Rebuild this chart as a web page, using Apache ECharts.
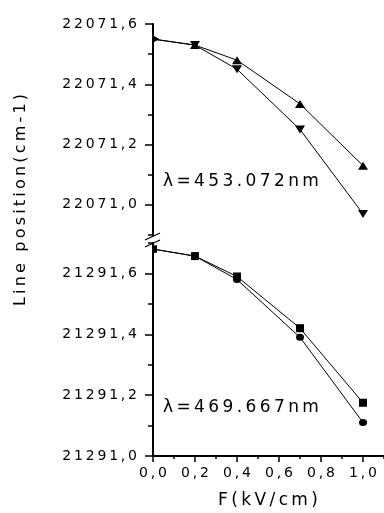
<!DOCTYPE html>
<html><head><meta charset="utf-8">
<script src="https://cdn.jsdelivr.net/npm/echarts@6/dist/echarts.min.js"></script>
<style>html,body{margin:0;padding:0;background:#fff}#c{width:384px;height:513px}</style>
</head><body><div id="c"></div>
<script>
// ---- data ----
const fieldValues = [0.0, 0.2, 0.4, 0.7, 1.0];
const upTri453   = [22071.55, 22071.53, 22071.48, 22071.335, 22071.13];
const downTri453 = [22071.55, 22071.53, 22071.45, 22071.25, 22070.97];
const square469  = [21291.68, 21291.657, 21291.59, 21291.42, 21291.175];
const circle469  = [21291.68, 21291.657, 21291.58, 21291.39, 21291.11];
const xTickValues = [0.0, 0.2, 0.4, 0.6, 0.8, 1.0];
const yTicksTop = [22071.0, 22071.2, 22071.4, 22071.6];
const yTicksBottom = [21291.0, 21291.2, 21291.4, 21291.6];
const labelTop = 'λ=453.072nm';
const labelBottom = 'λ=469.667nm';
const xTitle = 'F(kV/cm)';
const yTitle = 'Line position(cm-1)';

// ---- helpers ----
const FONT = '"DejaVu Sans", sans-serif';
const spaced = s => s.split('').join('\u2009');
const fmt = v => spaced(v.toFixed(1).replace('.', ','));
const zip = (xs, ys) => xs.map((x, i) => [x, ys[i]]);

const L = 153, W = 231;
const topMain = {top: 24, height: 211};
const botMain = {top: 243, height: 213};
const topExt = [yTicksTop[0] - 0.1, yTicksTop[yTicksTop.length - 1]];
const botExt = [yTicksBottom[0], yTicksBottom[yTicksBottom.length - 1] + 0.1];
const topOverlayH = topMain.height * (yTicksTop[3] - yTicksTop[0]) / (topExt[1] - topExt[0]);
const botOverlayH = botMain.height * (yTicksBottom[3] - yTicksBottom[0]) / (botExt[1] - botExt[0]);
const xMaxMain = 1.1;
const xOverlayW = W * xTickValues[xTickValues.length - 1] / xMaxMain;

const lineCol = '#000';
const mainY = (ext, gi) => ({
  type: 'value', gridIndex: gi, min: ext[0], max: ext[1], interval: 0.1,
  axisLine: {show: true, lineStyle: {color: lineCol, width: 2}},
  axisTick: {show: true, length: 5, lineStyle: {color: lineCol, width: 1.5}},
  axisLabel: {show: false}, splitLine: {show: false}
});
const overlayY = (ticks, gi) => ({
  type: 'value', gridIndex: gi, min: ticks[0], max: ticks[ticks.length - 1], interval: 0.2,
  axisLine: {show: false},
  axisTick: {show: true, length: 8, lineStyle: {color: lineCol, width: 1.5}},
  axisLabel: {show: true, margin: 16, formatter: fmt, color: '#000', fontSize: 14, fontFamily: FONT},
  splitLine: {show: false}
});
const hiddenX = (gi) => ({type: 'value', gridIndex: gi, min: 0, max: xMaxMain, show: false});

const firstPoint = (sym, size, offset, rot) => ({symbol: sym, symbolSize: size, symbolOffset: offset, symbolRotate: rot || 0});
const mkData = (xs, ys, first) => zip(xs, ys).map((p, i) => i === 0 ? Object.assign({value: p}, first) : {value: p});

const baseSeries = {
  type: 'line', lineStyle: {color: lineCol, width: 1}, itemStyle: {color: lineCol},
  showAllSymbol: true, animation: false, clip: false, z: 3
};

const option = {
  backgroundColor: '#fff',
  animation: false,
  grid: [
    {left: L, top: topMain.top, width: W, height: topMain.height},
    {left: L, top: topMain.top, width: W, height: topOverlayH},
    {left: L, top: botMain.top, width: W, height: botMain.height},
    {left: L, top: botMain.top + botMain.height - botOverlayH, width: xOverlayW, height: botOverlayH}
  ],
  xAxis: [
    hiddenX(0),
    {type: 'value', gridIndex: 1, min: 0, max: 1, show: false},
    {type: 'value', gridIndex: 2, min: 0, max: xMaxMain, interval: 0.1,
     axisLine: {show: true, onZero: false, lineStyle: {color: lineCol, width: 2}},
     axisTick: {show: true, length: 3, lineStyle: {color: lineCol, width: 1.5}},
     axisLabel: {show: false}, splitLine: {show: false}},
    {type: 'value', gridIndex: 3, min: xTickValues[0], max: xTickValues[xTickValues.length - 1], interval: 0.2,
     axisLine: {show: false, onZero: false},
     axisTick: {show: true, length: 6, lineStyle: {color: lineCol, width: 1.5}},
     axisLabel: {show: true, margin: 10, formatter: fmt, color: '#000', fontSize: 14, fontFamily: FONT},
     splitLine: {show: false}}
  ],
  yAxis: [
    mainY(topExt, 0),
    overlayY(yTicksTop, 1),
    mainY(botExt, 2),
    overlayY(yTicksBottom, 3)
  ],
  series: [
    Object.assign({}, baseSeries, {name: '453 up', xAxisIndex: 0, yAxisIndex: 0,
      symbol: 'triangle', symbolSize: [10, 8],
      data: mkData(fieldValues, upTri453, firstPoint('triangle', [7, 6], [3, 0], -90))}),
    Object.assign({}, baseSeries, {name: '453 down', xAxisIndex: 0, yAxisIndex: 0,
      symbol: 'triangle', symbolSize: [10, 8], symbolRotate: 180,
      data: mkData(fieldValues, downTri453, firstPoint('triangle', [7, 6], [3, 0], -90))}),
    Object.assign({}, baseSeries, {name: '469 square', xAxisIndex: 2, yAxisIndex: 2,
      symbol: 'rect', symbolSize: [8, 8],
      data: mkData(fieldValues, square469, firstPoint('rect', [4, 7], [2, 0]))}),
    Object.assign({}, baseSeries, {name: '469 circle', xAxisIndex: 2, yAxisIndex: 2,
      symbol: 'circle', symbolSize: [8, 7],
      data: mkData(fieldValues, circle469, firstPoint('rect', [4, 7], [2, 0]))})
  ],
  graphic: [
    {type: 'text', x: 163, y: 182, style: {text: spaced(labelTop), font: '17px ' + FONT, fill: '#000',
      align: 'left', verticalAlign: 'middle', textAlign: 'left', textVerticalAlign: 'middle'}},
    {type: 'text', x: 163, y: 408, style: {text: spaced(labelBottom), font: '17px ' + FONT, fill: '#000',
      align: 'left', verticalAlign: 'middle', textAlign: 'left', textVerticalAlign: 'middle'}},
    {type: 'text', x: 268, y: 501, style: {text: spaced(xTitle), font: '17px ' + FONT, fill: '#000',
      align: 'center', verticalAlign: 'middle', textAlign: 'center', textVerticalAlign: 'middle'}},
    {type: 'text', x: 21, y: 200, rotation: Math.PI / 2, style: {text: spaced(yTitle), font: '16px ' + FONT, fill: '#000',
      align: 'center', verticalAlign: 'middle', textAlign: 'center', textVerticalAlign: 'middle'}},
    {type: 'line', shape: {x1: 145, y1: 240, x2: 160, y2: 233}, style: {stroke: '#000', lineWidth: 1.2}},
    {type: 'line', shape: {x1: 145, y1: 247, x2: 160, y2: 240}, style: {stroke: '#000', lineWidth: 1.2}}
  ]
};

const chart = echarts.init(document.getElementById('c'), null, {renderer: 'canvas'});
chart.setOption(option);
</script>
</body></html>
